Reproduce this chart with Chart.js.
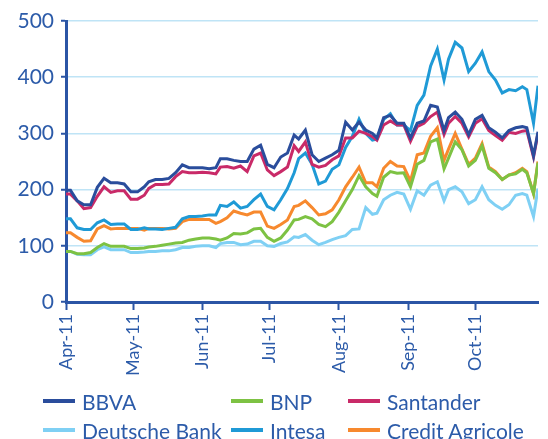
<!DOCTYPE html>
<html>
<head>
<meta charset="utf-8">
<script src="https://cdn.jsdelivr.net/npm/chart.js@4.4.1/dist/chart.umd.min.js"></script>
<style>
  html, body { margin: 0; padding: 0; background: #fff; }
  #wrap { position: relative; width: 548px; height: 439px; }
  #legend { position: absolute; left: 0; top: 0; width: 548px; height: 439px; pointer-events: none;
            font-family: Lato, "Open Sans", sans-serif; font-size: 21px; color: #2c5ba9; }
  .item { position: absolute; display: flex; align-items: center; white-space: nowrap; }
  .item i { display: inline-block; width: 32px; height: 4px; margin-right: 7px; }
</style>
</head>
<body>
<div id="wrap">
  <canvas id="chart" width="548" height="439"></canvas>
  <div id="legend"></div>
</div>
<script>
// days since 1 Apr 2011
const days = [0,2,5,8,11,14,17,20,23,26,29,32,35,37,40,43,46,49,52,55,58,61,64,67,69,72,75,78,81,84,
  87,90,93,96,99,102,104,107,110,113,116,119,122,125,128,131,134,137,139,142,145,148,151,154,157,160,163,166,169,171,
  174,177,180,183,186,189,192,195,198,201,204,206,209,211];

const monthDays = [0, 30, 61, 91, 122, 153, 183];
const monthLabels = ["Apr-11", "May-11", "Jun-11", "Jul-11", "Aug-11", "Sep-11", "Oct-11"];

const names = ["BBVA", "BNP", "Santander", "Deutsche Bank", "Intesa", "Credit Agricole"];
const colors = ["#2a4d9c", "#7dc243", "#c92a68", "#7fd0f4", "#1f9ad6", "#f7892e"];

const bbva = [199,199,180,173,173,204,220,212,212,210,196,196,205,214,218,218,220,230,244,239,
  239,239,237,239,255,255,252,250,250,272,279,245,239,258,265,297,290,306,262,250,
  256,262,270,320,306,320,306,300,292,328,332,318,318,292,318,322,350,347,305,328,
  338,325,298,325,332,310,302,292,305,310,312,310,260,303];
const santander = [192,192,180,166,168,188,205,195,198,198,183,183,190,202,209,209,210,223,232,230,
  230,231,230,228,240,241,238,242,232,260,265,235,225,232,240,278,268,285,245,240,
  243,253,260,292,292,304,300,294,288,315,322,315,315,286,312,318,330,338,298,318,
  330,318,294,318,326,305,296,288,302,300,304,305,258,300];
const intesa = [148,148,132,129,129,141,146,138,139,139,129,129,132,130,130,129,131,133,148,152,
  152,153,155,155,172,170,178,167,170,182,192,170,164,182,202,230,255,265,245,210,
  215,236,244,275,295,325,300,288,290,325,335,315,315,305,350,368,420,450,395,432,
  462,452,410,425,445,410,395,372,378,376,383,378,318,385];
const creditAgricole = [123,123,115,108,109,130,136,130,131,131,131,131,128,131,131,131,130,131,143,147,
  147,147,147,140,143,150,162,158,155,160,160,135,131,138,146,170,172,180,168,155,
  157,164,182,205,222,240,212,212,205,238,250,242,241,215,262,265,295,310,252,272,
  300,272,245,256,282,240,232,218,226,230,238,232,193,250];
const bnp = [90,90,86,86,88,97,104,99,99,99,95,95,96,98,99,101,103,105,106,110,
  112,114,114,112,110,114,122,121,123,130,131,115,108,114,128,146,147,152,148,138,
  134,143,160,180,200,225,205,193,188,222,232,229,230,205,245,252,285,290,237,256,
  285,271,242,252,278,238,230,218,226,228,236,230,193,248];
const deutsche = [90,90,85,84,84,93,98,93,93,93,88,88,89,90,90,91,91,93,97,97,
  99,100,100,97,104,106,106,102,103,108,108,100,99,104,107,116,115,120,110,102,
  106,111,115,118,129,130,168,156,158,182,190,195,192,165,198,190,208,214,180,200,
  205,196,175,182,205,182,172,165,173,190,193,190,152,202];

const series = [bbva, bnp, santander, deutsche, intesa, creditAgricole];

const TEXT = "#2c5ba9";
const AXIS = "#2b55a5";
const GRID = "#bfe4f6";

const datasets = series.map((vals, i) => ({
  label: names[i],
  data: vals.map((v, j) => ({ x: days[j], y: v })),
  borderColor: colors[i],
  backgroundColor: colors[i],
  borderWidth: 3,
  pointRadius: 0,
  tension: 0,
  fill: false,
}));

new Chart(document.getElementById("chart"), {
  type: "line",
  data: { datasets },
  options: {
    responsive: false,
    animation: false,
    layout: { padding: { top: 21, right: 10, bottom: 54, left: 0 } },
    plugins: { legend: { display: false }, tooltip: { enabled: false } },
    scales: {
      x: {
        type: "linear",
        min: 0,
        max: days[days.length - 1],
        afterBuildTicks: (s) => { s.ticks = monthDays.map((v) => ({ value: v })); },
        afterFit: (s) => { s.height = 83; },
        grid: { drawOnChartArea: false, drawTicks: true, tickLength: 8, tickColor: AXIS, tickWidth: 2 },
        border: { display: true, color: AXIS, width: 3 },
        ticks: {
          autoSkip: false,
          maxRotation: 90,
          minRotation: 90,
          padding: 4,
          color: TEXT,
          font: { family: "Lato", size: 18 },
          callback: (v, i) => monthLabels[i],
        },
      },
      y: {
        min: 0,
        max: 500,
        afterFit: (s) => { s.width = 66; },
        grid: {
          color: (c) => (c.tick && c.tick.value === 0 ? "rgba(0,0,0,0)" : GRID),
          lineWidth: 1.5,
          tickLength: 5,
          tickColor: AXIS,
          tickWidth: 2,
        },
        border: { display: true, color: AXIS, width: 3 },
        ticks: { stepSize: 50, padding: 7, color: TEXT, font: { family: "Lato", size: 21 } },
      },
    },
  },
});

// legend in three columns, two rows
const legendCols = [43, 231, 348];
const legendRows = [401, 430];
const legend = document.getElementById("legend");
names.forEach((n, i) => {
  const el = document.createElement("div");
  el.className = "item";
  el.style.left = legendCols[i % 3] + "px";
  el.style.top = legendRows[Math.floor(i / 3)] - 13 + "px";
  el.style.height = "26px";
  el.innerHTML = `<i style="background:${colors[i]}"></i><span>${n}</span>`;
  legend.appendChild(el);
});
</script>
</body>
</html>
